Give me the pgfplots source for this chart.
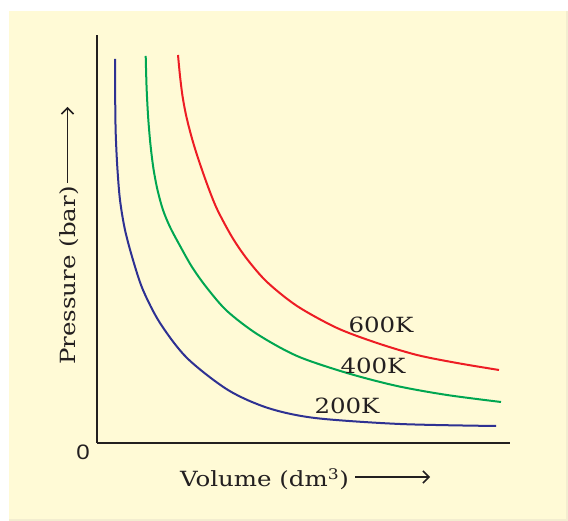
\documentclass[border=0pt]{standalone}
\usepackage{fontspec}
\setmainfont{DejaVu Serif}
\newfontfamily\zerofont{Liberation Sans}
\usepackage{graphicx}
\usepackage{pgfplots}
\pgfplotsset{compat=1.18}
\usetikzlibrary{arrows.meta}
\definecolor{bg}{RGB}{255,250,214}
\definecolor{wm}{RGB}{243,237,208}
\definecolor{axisc}{RGB}{35,31,32}
\definecolor{cblue}{RGB}{46,49,146}
\definecolor{cgreen}{RGB}{0,166,81}
\definecolor{cred}{RGB}{237,28,36}
\newcommand{\lbl}[1]{\fontsize{21}{25}\selectfont\scalebox{1.17}[1]{#1}}
\begin{document}
\begin{tikzpicture}[x=1bp,y=1bp]
\fill[white] (-30,-30) rectangle (620,521);
\fill[bg] (9,-30) rectangle (620,510);
\draw[wm, line width=2bp] (567,0) -- (567,510);
\draw[wm, line width=2bp] (9,1) -- (568,1);
\begin{axis}[at={(97bp,78bp)}, anchor=south west, scale only axis,
  width=413bp, height=408bp, xmin=0, xmax=413, ymin=0, ymax=408,
  axis x line*=bottom, axis y line*=left, xtick=\empty, ytick=\empty,
  axis line style={line width=2.5bp, color=axisc}, clip=false]
\addplot[cblue, line width=2bp, smooth, tension=0.5] coordinates {
(18,384) (18.2,343) (18.7,310) (20.3,276) (23,243) (28,213) (36,183) (46,153)
(63,120) (90,85) (131,53) (171,35) (218,25) (303,19) (399,17)};
\addplot[cgreen, line width=2bp, smooth, tension=0.5] coordinates {
(48.7,387) (49.6,355) (51.2,325) (53.5,298) (56.5,274) (60.5,253) (66,233)
(73,216) (82,199) (95,176) (110,155) (130,132) (160,109) (200,87) (250,70)
(300,57) (350,48) (404,41)};
\addplot[cred, line width=2bp, smooth, tension=0.5] coordinates {
(81,388) (83,367) (85.5,347) (89,328) (94,308) (100,288) (110,259) (120,234)
(135,206) (150,184) (170,161) (200,137) (240,115) (280,100) (320,88)
(360,80) (402,73)};
\end{axis}
\node[text=axisc] at (381,196) {\lbl{600K}};
\node[text=axisc] at (373,155) {\lbl{400K}};
\node[text=axisc] at (347,115) {\lbl{200K}};
\node[text=axisc] at (83,69) {\fontsize{21}{25}\zerofont\selectfont\scalebox{1.15}[1]{0}};
\node[text=axisc, anchor=base west, inner sep=0pt] at (180,34) {\lbl{Volume (dm\textsuperscript{3})}};
\draw[axisc, line width=1.5bp, -{Straight Barb[length=6bp,width=12bp]}] (355,44) -- (430,44);
\node[text=axisc, anchor=base west, inner sep=0pt, rotate=90] at (75,156) {\lbl{Pressure (bar)}};
\draw[axisc, line width=1.5bp, -{Straight Barb[length=6bp,width=12bp]}] (67.5,338) -- (67.5,414);
\pgfresetboundingbox
\path[use as bounding box] (0,0) rectangle (568,521);
\end{tikzpicture}
\end{document}
